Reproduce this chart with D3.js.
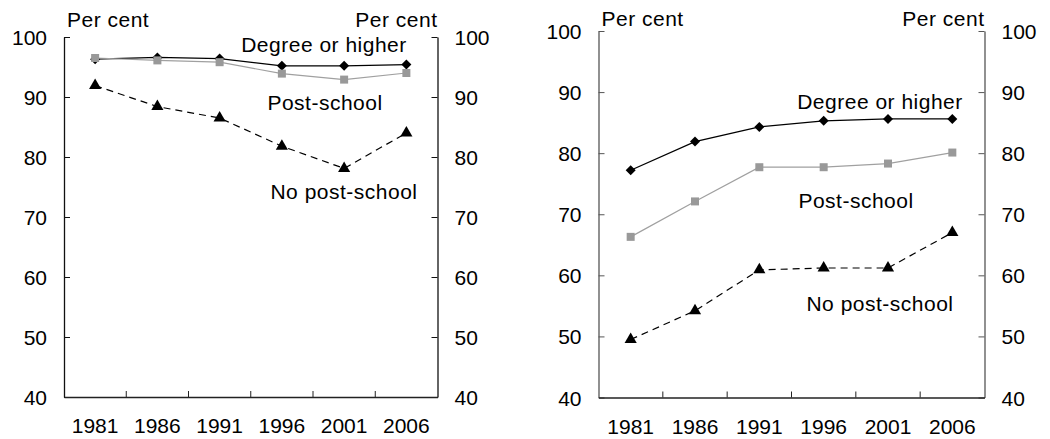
<!DOCTYPE html>
<html><head><meta charset="utf-8">
<script src="https://cdn.jsdelivr.net/npm/d3@7"></script>
<style>
html,body{margin:0;padding:0;background:#fff;}
svg{display:block;font-family:"Liberation Sans",Arial,sans-serif;}
</style></head>
<body>
<svg id="c" width="1050" height="439"></svg>
<script>
const years = ["1981","1986","1991","1996","2001","2006"];
const yTicks = [40,50,60,70,80,90,100];
const seriesNames = ["Degree or higher","Post-school","No post-school"];
// Left panel
const leftDegree = [96.3,96.6,96.4,95.2,95.2,95.4];
const leftPost   = [96.5,96.1,95.8,93.9,92.9,94.0];
const leftNoPost = [91.9,88.4,86.5,81.8,78.1,84.0];
// Right panel
const rightDegree = [77.2,81.9,84.3,85.3,85.6,85.6];
const rightPost   = [66.3,72.1,77.7,77.7,78.3,80.1];
const rightNoPost = [49.5,54.2,60.9,61.2,61.2,67.0];

const svg = d3.select("#c");
const FS = 21;

function panel(cfg){
  const g = svg.append("g");
  const x = d3.scaleBand().domain(years).range([cfg.x0,cfg.x1]).padding(0);
  const y = d3.scaleLinear().domain([40,100]).range([cfg.yb,cfg.yt]);
  const axCol = cfg.axCol;

  const la = g.append("g").attr("transform",`translate(${cfg.x0},0)`)
    .call(d3.axisLeft(y).tickValues(yTicks).tickSizeInner(-6).tickSizeOuter(0).tickPadding(17));
  const ra = g.append("g").attr("transform",`translate(${cfg.x1},0)`)
    .call(d3.axisRight(y).tickValues(yTicks).tickSizeInner(-6).tickSizeOuter(0).tickPadding(17));
  [la,ra].forEach(a=>{
    a.select(".domain").attr("stroke",axCol).attr("stroke-width",1.3);
    a.selectAll(".tick line").attr("stroke",axCol).attr("stroke-width",1);
    a.selectAll(".tick text").attr("font-size",FS).attr("fill","#000").attr("dy","0.36em")
      .attr("font-family","Liberation Sans, Arial, sans-serif");
  });
  const ba = g.append("g").attr("transform",`translate(0,${cfg.yb})`)
    .call(d3.axisBottom(x).tickSize(0).tickSizeOuter(0).tickPadding(0));
  ba.select(".domain").attr("stroke","#222").attr("stroke-width",1.3);
  ba.selectAll(".tick text").attr("font-size",FS).attr("fill","#000").attr("y",36).attr("dy","0")
    .attr("font-family","Liberation Sans, Arial, sans-serif");
  ba.selectAll(".sep").data(years.slice(1)).enter().append("line")
    .attr("x1",d=>x(d)).attr("x2",d=>x(d)).attr("y1",0).attr("y2",-6)
    .attr("stroke","#222").attr("stroke-width",1);

  g.append("text").attr("x",cfg.x0+3).attr("y",cfg.pcY).attr("font-size",FS).attr("letter-spacing","0.5px").text("Per cent");
  g.append("text").attr("x",cfg.x1).attr("y",cfg.pcY).attr("text-anchor","end").attr("font-size",FS).attr("letter-spacing","0.5px").text("Per cent");

  const cx = d=>x(d.year)+x.bandwidth()/2;
  const mk = vals=>years.map((yr,i)=>({year:yr,v:vals[i]}));
  const line = d3.line().x(cx).y(d=>y(d.v));

  const dData = mk(cfg.degree);
  g.append("path").attr("d",line(dData)).attr("fill","none").attr("stroke","#000").attr("stroke-width",1.3);
  g.selectAll(".dia").data(dData).enter().append("path")
    .attr("transform",d=>`translate(${cx(d)},${y(d.v)}) rotate(45)`)
    .attr("d",d3.symbol(d3.symbolSquare,50)).attr("fill","#000");
  const pData = mk(cfg.post);
  g.append("path").attr("d",line(pData)).attr("fill","none").attr("stroke","#a0a0a0").attr("stroke-width",1.2);
  g.selectAll(".sq").data(pData).enter().append("rect")
    .attr("x",d=>cx(d)-4).attr("y",d=>y(d.v)-4).attr("width",8).attr("height",8).attr("fill","#999");
  const nData = mk(cfg.nopost);
  g.append("path").attr("d",line(nData)).attr("fill","none").attr("stroke","#000").attr("stroke-width",1.2).attr("stroke-dasharray","7,5");
  g.selectAll(".tri").data(nData).enter().append("path")
    .attr("transform",d=>`translate(${cx(d)},${y(d.v)})`)
    .attr("d",d3.symbol(d3.symbolTriangle,64)).attr("fill","#000");

  cfg.labels.forEach((l,i)=>{
    g.append("text").attr("x",l[0]).attr("y",l[1]).attr("text-anchor","middle")
      .attr("font-size",FS).attr("letter-spacing","0.5px").text(seriesNames[i]);
  });
}

panel({x0:64,x1:437.5,yt:37,yb:397,axCol:"#111",pcY:27,
  degree:leftDegree,post:leftPost,nopost:leftNoPost,
  labels:[[324,52],[325,110],[344,199]]});
panel({x0:598.5,x1:984.5,yt:31,yb:397.5,axCol:"#555",pcY:26,
  degree:rightDegree,post:rightPost,nopost:rightNoPost,
  labels:[[880,109],[856,208],[880,311]]});
</script>
</body></html>
